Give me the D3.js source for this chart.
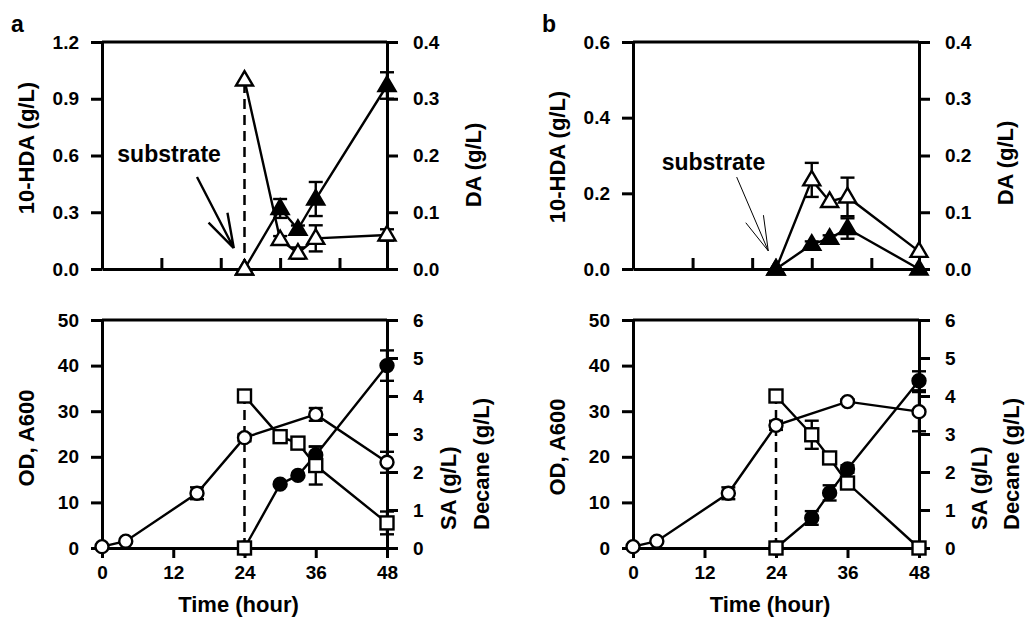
<!DOCTYPE html>
<html>
<head>
<meta charset="utf-8">
<script src="https://cdn.jsdelivr.net/npm/d3@7"></script>
<style>
  body { margin: 0; background: #fff; }
  text { font-family: "Liberation Sans", Arial, sans-serif; font-weight: bold; fill: #000; }
</style>
</head>
<body>
<svg id="chart" width="1026" height="620"></svg>
<script>
// time points (hour)
var tOD = [0, 4, 16, 24, 36, 48];
var tProd = [24, 30, 33, 36, 48];
var tFeed = [24, 24, 30, 33, 36, 48];   // first two = before / after substrate feed

// panel a, top: 10-HDA (left axis) and DA (right axis)
var hdaA = [0, 0.32, 0.21, 0.37, 0.97];
var hdaAErr = [0, 0.05, 0.02, 0.09, 0.07];
var daA = [0, 0.333, 0.052, 0.028, 0.054, 0.06];
var daAErr = [0, 0, 0.006, 0.01, 0.023, 0.01];

// panel b, top
var hdaB = [0, 0.065, 0.081, 0.107, 0];
var hdaBErr = [0, 0.008, 0.008, 0.027, 0];
var daB = [0, 0.157, 0.119, 0.127, 0.031];
var daBErr = [0, 0.03, 0, 0.034, 0];

// panel a, bottom: OD (left), SA and decane (right)
var odA = [0.3, 1.5, 12, 24.2, 29.3, 18.8];
var odAErr = [0, 0, 1.3, 0.8, 1.4, 2.3];
var saA = [0, 1.68, 1.91, 2.45, 4.8];
var saAErr = [0, 0, 0, 0.22, 0.4];
var decA = [0, 4.0, 2.93, 2.76, 2.17, 0.66];
var decAErr = [0, 0, 0, 0, 0.5, 0.3];

// panel b, bottom
var odB = [0.3, 1.5, 12, 26.9, 32.1, 29.9];
var odBErr = [0, 0, 1.3, 1.0, 0.5, 4.3];
var saB = [0, 0.79, 1.45, 2.08, 4.4];
var saBErr = [0, 0.18, 0.2, 0.1, 0.25];
var decB = [0, 4.0, 2.98, 2.37, 1.71, 0];
var decBErr = [0, 0, 0.37, 0, 0, 0];

// axis ticks
var xTicksBottom = [0, 12, 24, 36, 48];
var xTicksTop = [10, 20, 30, 40];
var hdaTicksA = [0, 0.3, 0.6, 0.9, 1.2];
var hdaTicksB = [0, 0.2, 0.4, 0.6];
var daTicks = [0, 0.1, 0.2, 0.3, 0.4];
var odTicks = [0, 10, 20, 30, 40, 50];
var saTicks = [0, 1, 2, 3, 4, 5, 6];

var svg = d3.select("#chart");
var LW = 2.4;

function series(t, v, e, side, shape, filled, jump) {
  var points = t.map(function (d, i) {
    return { t: d, v: v[i], e: e[i] };
  });
  return { points: points, side: side, shape: shape, filled: filled, jump: jump };
}

function marker(g, s, x, y) {
  var fill = s.filled ? "#000" : "#fff";
  if (s.shape === "circle") {
    g.append("circle").attr("cx", x).attr("cy", y).attr("r", 6.5)
      .attr("fill", fill).attr("stroke", "#000").attr("stroke-width", LW);
  } else if (s.shape === "square") {
    g.append("rect").attr("x", x - 6.5).attr("y", y - 6.5)
      .attr("width", 13).attr("height", 13)
      .attr("fill", fill).attr("stroke", "#000").attr("stroke-width", LW);
  } else {
    var h = 14.5, w = 8.5;
    g.append("path")
      .attr("d", `M${x},${y - h * 0.62}L${x + w},${y + h * 0.38}L${x - w},${y + h * 0.38}Z`)
      .attr("fill", fill).attr("stroke", "#000").attr("stroke-width", LW)
      .attr("stroke-linejoin", "miter");
  }
}

function drawPanel(cfg) {
  var g = svg.append("g");
  var x = d3.scaleLinear().domain([0, 48]).range([cfg.x0, cfg.x1]);
  var yL = d3.scaleLinear().domain(cfg.leftDomain).range([cfg.y1, cfg.y0]);
  var yR = d3.scaleLinear().domain(cfg.rightDomain).range([cfg.y1, cfg.y0]);

  // axes
  var left = g.append("g").attr("transform", `translate(${cfg.x0},0)`)
    .call(d3.axisLeft(yL).tickValues(cfg.leftTicks).tickFormat(cfg.leftFmt)
      .tickSize(11).tickSizeOuter(0).tickPadding(12));
  var right = g.append("g").attr("transform", `translate(${cfg.x1},0)`)
    .call(d3.axisRight(yR).tickValues(cfg.rightTicks).tickFormat(cfg.rightFmt)
      .tickSize(11).tickSizeOuter(0).tickPadding(15));
  var bottom = g.append("g").attr("transform", `translate(0,${cfg.y1})`);
  if (cfg.xLabels) {
    bottom.call(d3.axisBottom(x).tickValues(xTicksBottom).tickFormat(d3.format("d"))
      .tickSize(10).tickSizeOuter(0).tickPadding(8));
  } else {
    bottom.call(d3.axisBottom(x).tickValues(xTicksTop).tickFormat("")
      .tickSize(-11).tickSizeOuter(0));
  }
  g.append("line").attr("x1", cfg.x0).attr("x2", cfg.x1)
    .attr("y1", cfg.y0).attr("y2", cfg.y0)
    .attr("stroke", "#000").attr("stroke-width", 3);

  [left, right, bottom].forEach(function (a) {
    a.select(".domain").attr("stroke-width", 3);
    a.selectAll(".tick line").attr("stroke-width", 3);
    a.selectAll(".tick text").style("font-size", "19px");
  });

  // axis titles
  g.append("text")
    .attr("transform", `translate(${cfg.x0 - 68},${cfg.leftTitleY}) rotate(-90)`)
    .attr("text-anchor", "middle").style("font-size", "22px")
    .text(cfg.leftTitle);
  cfg.rightTitles.forEach(function (rt) {
    g.append("text")
      .attr("transform", `translate(${cfg.x1 + rt.dx},${rt.y}) rotate(-90)`)
      .attr("text-anchor", rt.anchor).style("font-size", "22px")
      .text(rt.text);
  });
  if (cfg.xTitle) {
    g.append("text").attr("x", (cfg.x0 + cfg.x1) / 2 - 6).attr("y", cfg.y1 + 64)
      .attr("text-anchor", "middle").style("font-size", "22px")
      .text(cfg.xTitle);
  }
  if (cfg.letter) {
    g.append("text").attr("x", cfg.x0 - 91).attr("y", 32)
      .style("font-size", "23px").text(cfg.letter);
  }

  // dashed feed line
  cfg.series.forEach(function (s) {
    if (!s.jump) return;
    var y = s.side === "left" ? yL : yR;
    var p0 = s.points[0], p1 = s.points[1];
    g.append("line")
      .attr("x1", x(p0.t)).attr("x2", x(p1.t))
      .attr("y1", y(p0.v)).attr("y2", y(p1.v))
      .attr("stroke", "#000").attr("stroke-width", 2.5)
      .attr("stroke-dasharray", "10,6");
  });

  // lines
  cfg.series.forEach(function (s) {
    var y = s.side === "left" ? yL : yR;
    var pts = s.jump ? s.points.slice(1) : s.points;
    g.append("path")
      .attr("d", d3.line().x(d => x(d.t)).y(d => y(d.v))(pts))
      .attr("fill", "none").attr("stroke", "#000").attr("stroke-width", LW);
  });

  // error bars
  cfg.series.forEach(function (s) {
    var y = s.side === "left" ? yL : yR;
    s.points.filter(d => d.e > 0).forEach(function (d) {
      var cx = x(d.t);
      g.append("line").attr("x1", cx).attr("x2", cx)
        .attr("y1", y(d.v - d.e)).attr("y2", y(d.v + d.e))
        .attr("stroke", "#000").attr("stroke-width", LW);
      [d.v - d.e, d.v + d.e].forEach(function (v) {
        g.append("line").attr("x1", cx - 7).attr("x2", cx + 7)
          .attr("y1", y(v)).attr("y2", y(v))
          .attr("stroke", "#000").attr("stroke-width", LW);
      });
    });
  });

  // markers
  cfg.series.forEach(function (s) {
    var y = s.side === "left" ? yL : yR;
    s.points.forEach(function (d) { marker(g, s, x(d.t), y(d.v)); });
  });

  // substrate annotation
  if (cfg.arrow) {
    var a = cfg.arrow;
    g.append("text").attr("x", x(a.textT)).attr("y", yL(a.textV))
      .attr("text-anchor", "middle").style("font-size", "23px").text("substrate");
    var sx = x(a.fromT), sy = yL(a.fromV), tx = x(a.toT), ty = yL(a.toV);
    var ang = Math.atan2(sy - ty, sx - tx);
    var path = `M${sx},${sy}L${tx},${ty}`;
    [-a.spread, a.spread].forEach(function (da) {
      path += `M${tx + 36 * Math.cos(ang + da)},${ty + 36 * Math.sin(ang + da)}L${tx},${ty}`;
    });
    g.append("path").attr("d", path).attr("fill", "none")
      .attr("stroke", "#000").attr("stroke-width", a.width);
  }
}

var f1 = d3.format(".1f");
var fd = d3.format("d");

// panel a
drawPanel({
  x0: 102, x1: 387, y0: 42, y1: 269,
  leftDomain: [0, 1.2], leftTicks: hdaTicksA, leftFmt: f1,
  rightDomain: [0, 0.4], rightTicks: daTicks, rightFmt: f1,
  xLabels: false, letter: "a",
  leftTitle: "10-HDA (g/L)", leftTitleY: 148,
  rightTitles: [{ text: "DA (g/L)", dx: 94, y: 165, anchor: "middle" }],
  series: [
    series(tProd, hdaA, hdaAErr, "left", "triangle", true, false),
    series(tFeed, daA, daAErr, "right", "triangle", false, true)
  ],
  arrow: { textT: 11.3, textV: 0.565, fromT: 16.0, fromV: 0.486, toT: 22.2, toV: 0.11, spread: 0.3, width: 2.4 }
});
drawPanel({
  x0: 102, x1: 387, y0: 320, y1: 548,
  leftDomain: [0, 50], leftTicks: odTicks, leftFmt: fd,
  rightDomain: [0, 6], rightTicks: saTicks, rightFmt: fd,
  xLabels: true, xTitle: "Time (hour)",
  leftTitle: "OD, A600", leftTitleY: 438,
  rightTitles: [
    { text: "SA (g/L)", dx: 69, y: 530, anchor: "start" },
    { text: "Decane (g/L)", dx: 102, y: 530, anchor: "start" }
  ],
  series: [
    series(tOD, odA, odAErr, "left", "circle", false, false),
    series(tProd, saA, saAErr, "right", "circle", true, false),
    series(tFeed, decA, decAErr, "right", "square", false, true)
  ]
});

// panel b
drawPanel({
  x0: 633, x1: 919, y0: 42, y1: 269,
  leftDomain: [0, 0.6], leftTicks: hdaTicksB, leftFmt: f1,
  rightDomain: [0, 0.4], rightTicks: daTicks, rightFmt: f1,
  xLabels: false, letter: "b",
  leftTitle: "10-HDA (g/L)", leftTitleY: 157,
  rightTitles: [{ text: "DA (g/L)", dx: 94, y: 163, anchor: "middle" }],
  series: [
    series(tProd, daB, daBErr, "right", "triangle", false, false),
    series(tProd, hdaB, hdaBErr, "left", "triangle", true, false)
  ],
  arrow: { textT: 13.5, textV: 0.261, fromT: 17.4, fromV: 0.243, toT: 22.7, toV: 0.048, spread: 0.27, width: 1 }
});
drawPanel({
  x0: 633, x1: 919, y0: 320, y1: 548,
  leftDomain: [0, 50], leftTicks: odTicks, leftFmt: fd,
  rightDomain: [0, 6], rightTicks: saTicks, rightFmt: fd,
  xLabels: true, xTitle: "Time (hour)",
  leftTitle: "OD, A600", leftTitleY: 447,
  rightTitles: [
    { text: "SA (g/L)", dx: 68, y: 530, anchor: "start" },
    { text: "Decane (g/L)", dx: 100, y: 530, anchor: "start" }
  ],
  series: [
    series(tOD, odB, odBErr, "left", "circle", false, false),
    series(tProd, saB, saBErr, "right", "circle", true, false),
    series(tFeed, decB, decBErr, "right", "square", false, true)
  ]
});
</script>
</body>
</html>
